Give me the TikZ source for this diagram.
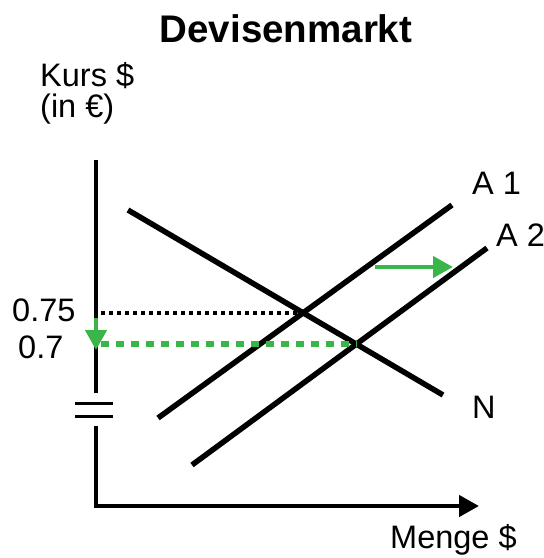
\documentclass[tikz,border=0pt]{standalone}
\usepackage{fontspec}
\setmainfont{Liberation Sans}
\usetikzlibrary{arrows.meta}
\definecolor{shiftgreen}{RGB}{57,181,74}

\begin{document}
\begin{tikzpicture}[x=1pt, y=-1pt, >={Triangle[length=20pt,width=21pt]},
    lbl/.style={font=\fontsize{32.5}{32.5}\selectfont, inner sep=0pt, anchor=base west},
    axis/.style={line width=4.5pt},
    curve/.style={line width=5.5pt},
    shiftarrow/.style={shiftgreen, line width=4.5pt, ->}]

    \useasboundingbox (0,0) rectangle (544,558);

    % Title and axis labels
    \node[font=\bfseries\fontsize{38.5}{38.5}\selectfont, inner sep=0pt] (title) at (286,29) {Devisenmarkt};
    \node[lbl] (kurs) at (40,86) {Kurs \$};
    \node[lbl] (inEUR) at (40,117) {(in €)};
    \node[lbl] (menge) at (390,548) {Menge \$};

    % Axes
    \coordinate (ytop) at (96,160);
    \coordinate (ybreak1) at (96,393);
    \coordinate (ybreak2) at (96,426);
    \coordinate (o) at (96,506);
    \coordinate (xend) at (479,506);
    \draw[axis] (ytop) -- (ybreak1);
    \draw[axis, ->] (ybreak2) -- (o) -- (xend);
    \draw[line width=3pt] (75,403) -- (113,403);
    \draw[line width=3pt] (75,416) -- (113,416);

    % Demand and supply lines
    \coordinate (n1) at (128,210);
    \coordinate (n2) at (443,395);
    \coordinate (a1s) at (158,418);
    \coordinate (a1e) at (452,205);
    \coordinate (a2s) at (192,465);
    \coordinate (a2e) at (487,248);
    \draw[curve] (n1) -- (n2);
    \draw[curve] (a1s) -- (a1e);
    \draw[curve] (a2s) -- (a2e);
    \node[lbl] (labA1) at (472,194) {A 1};
    \node[lbl] (labA2) at (496,246) {A 2};
    \node[lbl] (labN) at (472,418) {N};

    % Equilibria
    \coordinate (e1) at (intersection of n1--n2 and a1s--a1e);
    \coordinate (e2) at (intersection of n1--n2 and a2s--a2e);
    \draw[line width=4pt, dash pattern=on 4pt off 4pt] ([xshift=5pt]ytop |- e1) -- (e1);
    \draw[shiftgreen, line width=5.5pt, dash pattern=on 8pt off 7pt] ([xshift=5pt]ytop |- e2) -- (e2);
    \node[lbl] (p1) at (12,321) {0.75};
    \node[lbl] (p2) at (18,358) {0.7};

    % Shifts
    \coordinate (d1) at (96,318);
    \coordinate (d2) at (96,350);
    \draw[shiftarrow] (d1) -- (d2);
    \coordinate (r1) at (375,267);
    \coordinate (r2) at (453,267);
    \draw[shiftarrow] (r1) -- (r2);

\end{tikzpicture}
\end{document}
